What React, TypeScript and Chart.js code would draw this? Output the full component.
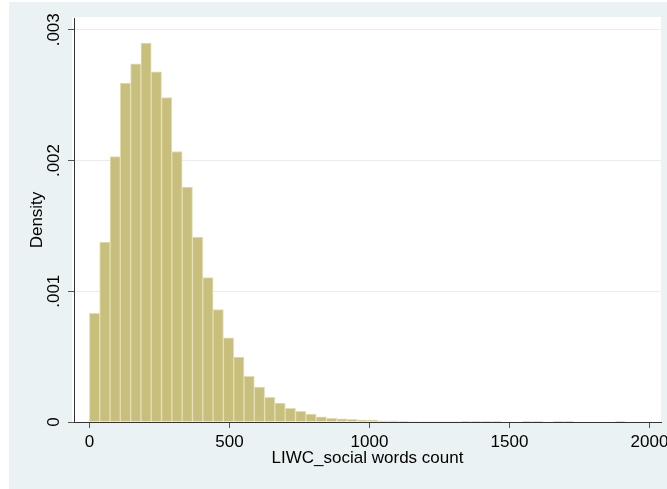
import React, { useEffect, useRef } from 'react';
import { Chart, registerables } from 'chart.js';

Chart.register(...registerables);

// Histogram bins (width in words) and densities
const binWidth = 36.8;
const densities = [
  0.000832, 0.001376, 0.00203, 0.002593, 0.00274, 0.002898, 0.002679, 0.002481,
  0.002069, 0.001796, 0.001415, 0.001104, 0.00086, 0.000644, 0.000497, 0.00035,
  0.000267, 0.000188, 0.000145, 0.000104, 0.000081, 0.000061, 0.00004, 0.000028,
  0.000025, 0.00002, 0.000015, 0.000013, 0.000008, 0.000008, 0.000007, 0.000004,
  0.000004, 0.000004, 0.000004, 0.000004, 0.000003, 0.000003, 0.000003, 0.000003,
  0.0, 0.0, 0.000003, 0.000003, 0.0, 0.000003, 0.000003, 0.0,
  0.0, 0.0, 0.0, 0.000003,
];
const xTickValues = [0, 500, 1000, 1500, 2000];
const yTickValues = [0, 0.001, 0.002, 0.003];
const xTitle = 'LIWC_social words count';
const yTitle = 'Density';

const FONT = 'Liberation Sans, Arial, Helvetica, sans-serif';

const bgPlugin = {
  id: 'stataBg',
  beforeDraw(chart: any) {
    const { ctx, chartArea } = chart;
    ctx.save();
    ctx.fillStyle = '#eaf2f3';
    ctx.fillRect(9, 2, chart.width - 9, chart.height - 2);
    ctx.fillStyle = '#ffffff';
    ctx.fillRect(
      chartArea.left - 2,
      chartArea.top - 1,
      chartArea.right - chartArea.left + 2,
      chartArea.bottom - chartArea.top + 1
    );
    ctx.restore();
  },
};

export default function App() {
  const ref = useRef<HTMLCanvasElement | null>(null);

  useEffect(() => {
    document.body.style.margin = '0';
    document.body.style.overflow = 'hidden';
    const canvas = ref.current;
    if (!canvas) return;
    const points = densities.map((d, i) => ({ x: i * binWidth + binWidth / 2, y: d }));
    const chart = new Chart(canvas, {
      type: 'bar',
      data: {
        datasets: [
          {
            data: points as any,
            backgroundColor: '#c8bf7c',
            borderColor: '#e3deb6',
            borderWidth: 1,
            barPercentage: 1,
            categoryPercentage: 1,
          },
        ],
      },
      options: {
        responsive: false,
        animation: false,
        events: [],
        layout: { padding: { left: 0, top: 18, right: 6, bottom: 0 } },
        plugins: {
          legend: { display: false },
          tooltip: { enabled: false },
        },
        scales: {
          x: {
            type: 'linear',
            offset: false,
            min: -55,
            max: 2041,
            afterBuildTicks: (scale: any) => {
              scale.ticks = xTickValues.map((v) => ({ value: v }));
            },
            afterFit: (scale: any) => {
              scale.height = 67;
              scale.paddingLeft = 0;
              scale.paddingRight = 0;
            },
            ticks: {
              autoSkip: false,
              maxRotation: 0,
              minRotation: 0,
              padding: 4,
              color: '#000',
              font: { family: FONT, size: 17 },
              callback: (v: any) => String(v),
            },
            grid: {
              offset: false,
              drawOnChartArea: false,
              drawTicks: true,
              tickLength: 6,
              tickColor: '#555',
              tickWidth: 1,
            },
            border: { display: true, color: '#333', width: 1, z: 1 },
            title: {
              display: true,
              text: xTitle,
              color: '#000',
              font: { family: FONT, size: 17 },
              padding: { top: 0, bottom: 20 },
            },
          },
          y: {
            type: 'linear',
            min: 0,
            max: 0.00309,
            afterBuildTicks: (scale: any) => {
              scale.ticks = yTickValues.map((v) => ({ value: v }));
            },
            afterFit: (scale: any) => {
              scale.width = 74;
              scale.paddingTop = 0;
              scale.paddingBottom = 0;
            },
            ticks: {
              autoSkip: false,
              minRotation: 90,
              maxRotation: 90,
              crossAlign: 'center',
              padding: -3,
              color: '#000',
              font: { family: FONT, size: 17 },
              callback: (v: any) => (v === 0 ? '0' : Number(v).toFixed(3).replace(/^0/, '')),
            },
            grid: {
              offset: false,
              color: (c: any) => (c.tick && c.tick.value === 0 ? 'rgba(0,0,0,0)' : '#e6eef0'),
              lineWidth: 1,
              drawTicks: true,
              tickLength: 6,
              tickColor: '#555',
            },
            border: { display: true, color: '#333', width: 1, z: 1 },
            title: {
              display: true,
              text: yTitle,
              color: '#000',
              font: { family: FONT, size: 17 },
              padding: { top: 27, bottom: 0 },
            },
          },
        },
      },
      plugins: [bgPlugin],
    });
    return () => chart.destroy();
  }, []);

  return (
    <div style={{ width: 667, height: 489 }}>
      <canvas ref={ref} width={667} height={489} style={{ display: 'block' }} />
    </div>
  );
}
